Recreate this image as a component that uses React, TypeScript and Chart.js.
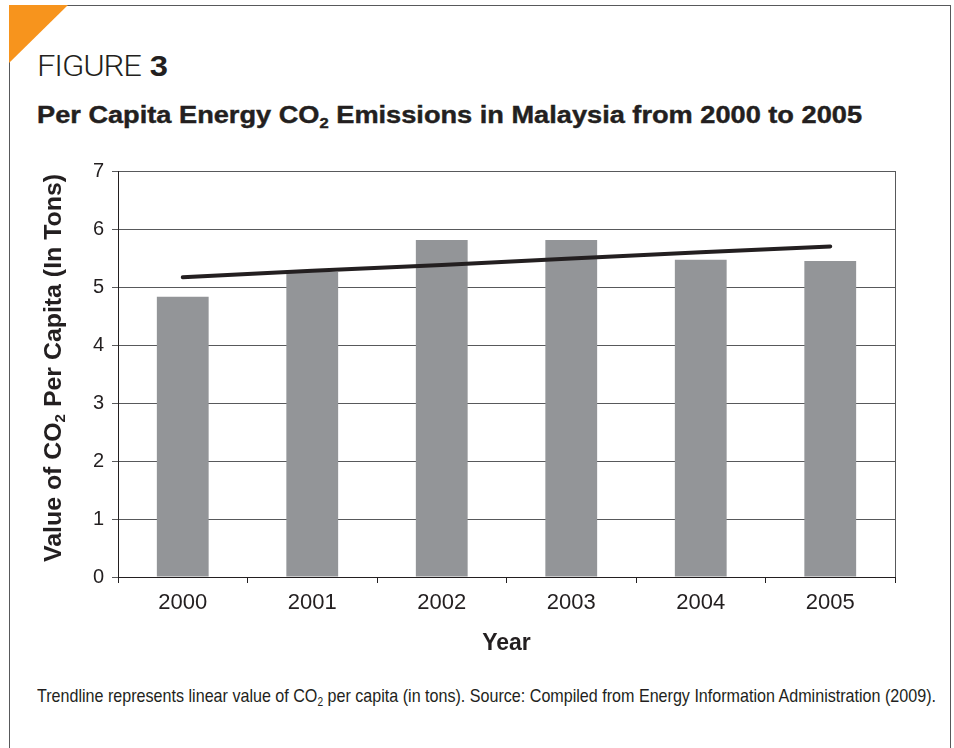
import React, { useEffect, useLayoutEffect, useRef } from "react";
import { Chart, registerables } from "chart.js";
Chart.register(...registerables);

const years = ["2000", "2001", "2002", "2003", "2004", "2005"];
const co2PerCapita = [4.83, 5.26, 5.81, 5.81, 5.47, 5.45];
const trendline = [5.17, 5.28, 5.38, 5.49, 5.6, 5.7];
const yMin = 0;
const yMax = 7;
const yStep = 1;

const TEXT = "#231f20";
const GRID = "#58595b";
const BAR = "#939598";
const SANS = "'Liberation Sans', Arial, Helvetica, sans-serif";

const framePlugin = {
  id: "frameAndYTitle",
  afterDraw(chart: any) {
    const { ctx, chartArea } = chart;
    ctx.save();
    ctx.strokeStyle = GRID;
    ctx.lineWidth = 1;
    ctx.beginPath();
    ctx.moveTo(Math.round(chartArea.right) + 0.5, chartArea.top);
    ctx.lineTo(Math.round(chartArea.right) + 0.5, chartArea.bottom);
    ctx.stroke();

    // y axis title with subscript
    const cy = (chartArea.top + chartArea.bottom) / 2 - 6;
    const p1 = "Value of CO";
    const sub = "2";
    const p2 = " Per Capita (In Tons)";
    const mainFont = "bold 23px " + SANS;
    const subFont = "bold 14px " + SANS;
    ctx.font = mainFont;
    const w1 = ctx.measureText(p1).width;
    const w2 = ctx.measureText(p2).width;
    ctx.font = subFont;
    const ws = ctx.measureText(sub).width;
    const total = w1 + ws + w2;
    const targetLen = 388;
    ctx.translate(0, cy);
    ctx.rotate(-Math.PI / 2);
    ctx.scale(targetLen / total, 1);
    ctx.fillStyle = TEXT;
    ctx.textBaseline = "alphabetic";
    ctx.textAlign = "left";
    const baseY = 61;
    let x = -total / 2;
    ctx.font = mainFont;
    ctx.fillText(p1, x, baseY);
    x += w1;
    ctx.font = subFont;
    ctx.fillText(sub, x, baseY + 4);
    x += ws;
    ctx.font = mainFont;
    ctx.fillText(p2, x, baseY);
    ctx.restore();
  },
};

function useFitWidth(ref: React.RefObject<HTMLElement | null>, target: number) {
  useLayoutEffect(() => {
    const el = ref.current;
    if (!el) return;
    el.style.transform = "none";
    const w = el.getBoundingClientRect().width;
    if (w > 0) el.style.transform = `scaleX(${target / w})`;
  }, []);
}

export default function App() {
  const canvasRef = useRef<HTMLCanvasElement | null>(null);
  const titleRef = useRef<HTMLDivElement | null>(null);
  const footRef = useRef<HTMLDivElement | null>(null);
  const figRef = useRef<HTMLDivElement | null>(null);
  useFitWidth(titleRef, 825);
  useFitWidth(footRef, 899);
  useFitWidth(figRef, 131);

  useEffect(() => {
    const canvas = canvasRef.current;
    if (!canvas) return;
    const chart = new Chart(canvas, {
      type: "bar",
      data: {
        labels: years,
        datasets: [
          {
            type: "line",
            label: "Trendline",
            data: trendline,
            borderColor: TEXT,
            borderWidth: 4,
            pointRadius: 0,
            borderCapStyle: "round",
            fill: false,
            order: 0,
          } as any,
          {
            type: "bar",
            label: "CO2 per capita",
            data: co2PerCapita,
            backgroundColor: BAR,
            borderWidth: 0,
            barPercentage: 0.4,
            categoryPercentage: 1,
            order: 1,
          },
        ],
      },
      options: {
        responsive: false,
        animation: false,
        devicePixelRatio: 1,
        layout: { padding: { left: 0, top: 21, right: 59, bottom: 0 } },
        plugins: {
          legend: { display: false },
          tooltip: { enabled: false },
          title: { display: false },
        },
        scales: {
          x: {
            offset: true,
            grid: {
              offset: true,
              drawOnChartArea: false,
              drawTicks: true,
              tickLength: 6,
              color: TEXT,
            },
            border: { display: true, color: TEXT, width: 1 },
            ticks: {
              color: TEXT,
              font: { family: SANS, size: 22 },
              padding: 7,
            },
            title: {
              display: true,
              text: "Year",
              color: TEXT,
              font: { family: SANS, size: 23, weight: "bold" },
              padding: { top: 0, bottom: 13 },
            },
            afterFit(scale: any) {
              scale.height = 93;
            },
          },
          y: {
            min: yMin,
            max: yMax,
            ticks: {
              stepSize: yStep,
              color: TEXT,
              font: { family: SANS, size: 20 },
              padding: 8,
            },
            grid: {
              color: GRID,
              lineWidth: 1,
              tickLength: 6,
              drawTicks: true,
            },
            border: { display: true, color: TEXT, width: 1 },
            afterFit(scale: any) {
              scale.width = 118;
            },
          },
        },
      },
      plugins: [framePlugin],
    });
    return () => chart.destroy();
  }, []);

  return (
    <div
      style={{
        position: "absolute",
        left: 0,
        top: 0,
        width: 954,
        height: 748,
        background: "#ffffff",
        overflow: "hidden",
        fontFamily: SANS,
        color: TEXT,
      }}
    >
      {/* frame */}
      <div
        style={{
          position: "absolute",
          left: 9,
          top: 5,
          width: 942,
          height: 760,
          borderLeft: "1.5px solid #58595b",
          borderTop: "1.5px solid #58595b",
          borderRight: "1.5px solid #58595b",
          boxSizing: "border-box",
        }}
      />
      {/* orange corner */}
      <div
        style={{
          position: "absolute",
          left: 9,
          top: 5,
          width: 59,
          height: 58,
          background: "#f7941d",
          clipPath: "polygon(0 0, 100% 0, 0 100%)",
        }}
      />
      <div
        ref={figRef}
        style={{
          position: "absolute",
          left: 37,
          top: 52,
          fontSize: 29,
          lineHeight: "29px",
          whiteSpace: "nowrap",
          transformOrigin: "left top",
          display: "inline-block",
        }}
      >
        <span style={{ fontFamily: "Roboto, 'Liberation Sans', sans-serif", fontWeight: 300, letterSpacing: "-1px" }}>FIGURE</span>
        <span style={{ fontFamily: SANS, fontWeight: 700 }}> 3</span>
      </div>
      <div
        ref={titleRef}
        style={{
          position: "absolute",
          left: 37,
          top: 104,
          fontSize: 23,
          lineHeight: "23px",
          fontWeight: 900,
          whiteSpace: "nowrap",
          transformOrigin: "left top",
          display: "inline-block",
          WebkitTextStroke: "0.4px #231f20",
        }}
      >
        Per Capita Energy CO
        <span style={{ fontSize: 14, position: "relative", top: 5 }}>2</span> Emissions in Malaysia from 2000 to 2005
      </div>
      <canvas
        ref={canvasRef}
        width={954}
        height={520}
        style={{ position: "absolute", left: 0, top: 150, width: 954, height: 520 }}
      />
      <div
        ref={footRef}
        style={{
          position: "absolute",
          left: 37,
          top: 686,
          fontSize: 19,
          lineHeight: "19px",
          fontFamily: "'Liberation Sans Narrow', 'Arial Narrow', " + SANS,
          whiteSpace: "nowrap",
          transformOrigin: "left top",
          display: "inline-block",
        }}
      >
        Trendline represents linear value of CO
        <span style={{ fontSize: 12, position: "relative", top: 4 }}>2</span> per capita (in tons). Source: Compiled from Energy Information Administration (2009).
      </div>
    </div>
  );
}
